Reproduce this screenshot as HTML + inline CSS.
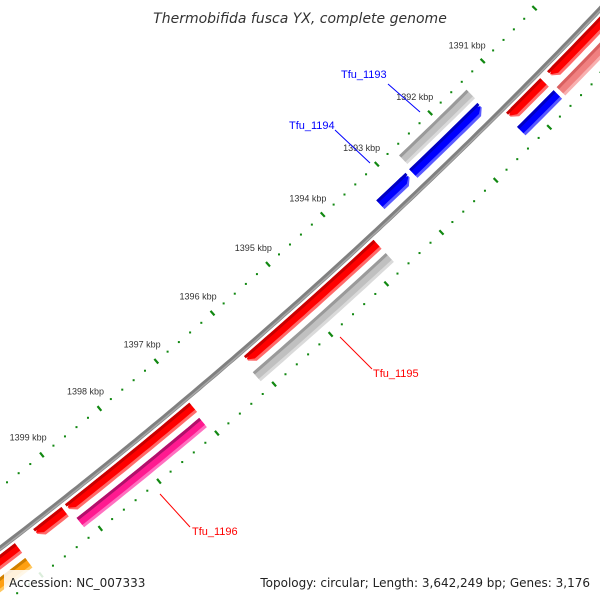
<!DOCTYPE html>
<html><head><meta charset="utf-8"><style>
html,body{margin:0;padding:0;background:#fff;width:600px;height:600px;overflow:hidden;}
svg{display:block;font-family:"Liberation Sans","DejaVu Sans",sans-serif;overflow:hidden;}
</style></head><body>
<svg id="map" width="600" height="600" viewBox="0 0 600 600" xmlns="http://www.w3.org/2000/svg">
<rect width="600" height="600" fill="#fff"/>
<g id="rulers"></g>
<g id="features"></g>
<g id="backbone"></g>
<g id="labels">
  <line x1="388" y1="84" x2="420" y2="112" stroke="#0000ff" stroke-width="1"/>
  <text x="341" y="78" font-size="11" fill="#0000ff">Tfu_1193</text>
  <line x1="335" y1="130" x2="370" y2="163" stroke="#0000ff" stroke-width="1"/>
  <text x="289" y="129" font-size="11" fill="#0000ff">Tfu_1194</text>
  <line x1="340" y1="337" x2="372" y2="369" stroke="#ff0000" stroke-width="1"/>
  <text x="373" y="377" font-size="11" fill="#ff0000">Tfu_1195</text>
  <line x1="160" y1="494" x2="190" y2="527" stroke="#ff0000" stroke-width="1"/>
  <text x="192" y="535" font-size="11" fill="#ff0000">Tfu_1196</text>
</g>
<text x="300" y="23" text-anchor="middle" font-size="14" font-style="italic" fill="#333" style="font-family:'DejaVu Sans',sans-serif">Thermobifida fusca YX, complete genome</text>
<rect x="4" y="570" width="150" height="22" fill="#fff" fill-opacity="0.85"/>
<text x="9" y="587" font-size="12" fill="#222" style="font-family:'DejaVu Sans',sans-serif">Accession: NC_007333</text>
<text x="590" y="587" text-anchor="end" font-size="12" fill="#222" style="font-family:'DejaVu Sans',sans-serif">Topology: circular; Length: 3,642,249 bp; Genes: 3,176</text>
</svg>
<script>
// feature data (kbp)
const featStart = [1393.73, 1393.73, 1391.43, 1391.45, 1392.80, 1390.62, 1388.5, 1390.61, 1388.5, 1397.02, 1399.23, 1400.02, 1397.05, 1400.03];
const featEnd   = [1396.06, 1396.11, 1392.70, 1392.73, 1393.34, 1391.27, 1390.49, 1391.30, 1390.55, 1399.17, 1399.71, 1401.5, 1399.16, 1401.5];
const featRing  = ['out1','out2','in2','in1','in1','out1','out1','out2','out2','out1','out1','out1','out2','out2'];
const featColor = ['red','gray','gray','blue','blue','red','red','blue','salmon','red','red','red','magenta','orange'];
const featArrow = [1,0,0,-1,-1,1,1,0,0,1,1,1,0,0];
const tickLabels = ['1391 kbp','1392 kbp','1393 kbp','1394 kbp','1395 kbp','1396 kbp','1397 kbp','1398 kbp','1399 kbp'];
const tickKbp = [1391,1392,1393,1394,1395,1396,1397,1398,1399];

const NS='http://www.w3.org/2000/svg';
const CX=-3137, CY=-3546, R=5158;
const T0=0.7981, DT=0.01447;
function ang(k){return T0+(k-1392)*DT;}
function pt(k,r){const a=ang(k);return [CX+r*Math.cos(a), CY+r*Math.sin(a)];}
const ringOff={out1:11,out2:29,in1:-16,in2:-33};
const pal={
 red:['#c80000','#ff0000','#ff6a6a'],
 gray:['#9a9a9a','#c0c0c0','#dadada'],
 blue:['#0000c0','#0000ff','#5a5aff'],
 salmon:['#d86060','#f08080','#f8b0b0'],
 magenta:['#b0106a','#ff1a90','#ff70c0'],
 orange:['#d08000','#ffa010','#ffc860']
};
function mk(tag,attrs,parent){const e=document.createElementNS(NS,tag);for(const k in attrs)e.setAttribute(k,attrs[k]);parent.appendChild(e);return e;}
function bandPath(k1,k2,r1,r2,arrow,rmid){
  const ah=0.09; let a=k1,b=k2;
  if(arrow===1)b=k2-ah; if(arrow===-1)a=k1+ah;
  const pts=[];
  const n=Math.max(2,Math.ceil((b-a)/0.1));
  for(let i=0;i<=n;i++)pts.push(pt(a+(b-a)*i/n,r1));
  if(arrow===1)pts.push(pt(k2,rmid));
  for(let i=n;i>=0;i--)pts.push(pt(a+(b-a)*i/n,r2));
  if(arrow===-1)pts.push(pt(k1,rmid));
  return 'M'+pts.map(p=>p[0].toFixed(1)+','+p[1].toFixed(1)).join('L')+'Z';
}
const fg=document.getElementById('features');
for(let i=0;i<featStart.length;i++){
  const rc=R+ringOff[featRing[i]], w=12, c=pal[featColor[i]];
  const g=mk('g',{},fg);
  
  
  const r1=rc-w/2, r2=rc+w/2;
  const p1=mk('path',{d:bandPath(featStart[i],featEnd[i],r1,r2,featArrow[i],rc),fill:c[2]},g);
  
  
  const p2=mk('path',{d:bandPath(featStart[i],featEnd[i],r1,r2-3,featArrow[i],rc-1.5),fill:c[1]},g);
  
  
  const p3=mk('path',{d:bandPath(featStart[i],featEnd[i],r1,r1+3,0,r1),fill:c[0]},g);
  
  
}
const bb=document.getElementById('backbone');
let d='';for(let k=1387;k<=1402;k+=0.1){const p=pt(k,R);d+=(d?'L':'M')+p[0].toFixed(1)+','+p[1].toFixed(1);}
const b1=mk('path',{d:d,fill:'none',stroke:'#808080','stroke-width':5},bb);


const b2=mk('path',{d:d,fill:'none',stroke:'#a8a8a8','stroke-width':1.5,transform:'translate(0.8,0.8)'},bb);


const rg=document.getElementById('rulers');
[R-48,R+46].forEach((rr,ri)=>{
  for(let k=1386;k<=1403.001;k+=0.2){
    const kk=Math.round(k*10)/10;
    const major=Math.abs(kk-Math.round(kk))<1e-6;
    if(major){
      const p1=pt(kk,rr-3),p2=pt(kk,rr+3);
      const l=mk('line',{x1:p1[0],y1:p1[1],x2:p2[0],y2:p2[1],stroke:'#118811','stroke-width':2.2},rg);
      
      
    }else{
      const p=pt(kk,rr);
      const c=mk('rect',{x:p[0]-1,y:p[1]-1,width:2,height:2,fill:'#118811'},rg);
      
      
    }
  }
});
tickKbp.forEach((k,i)=>{
  const p=pt(k,R-70);
  const t=mk('text',{x:p[0],y:p[1]+3,'text-anchor':'middle','font-size':9,fill:'#333'},rg);
  t.textContent=tickLabels[i];
  
  
});
</script>
</body></html>
